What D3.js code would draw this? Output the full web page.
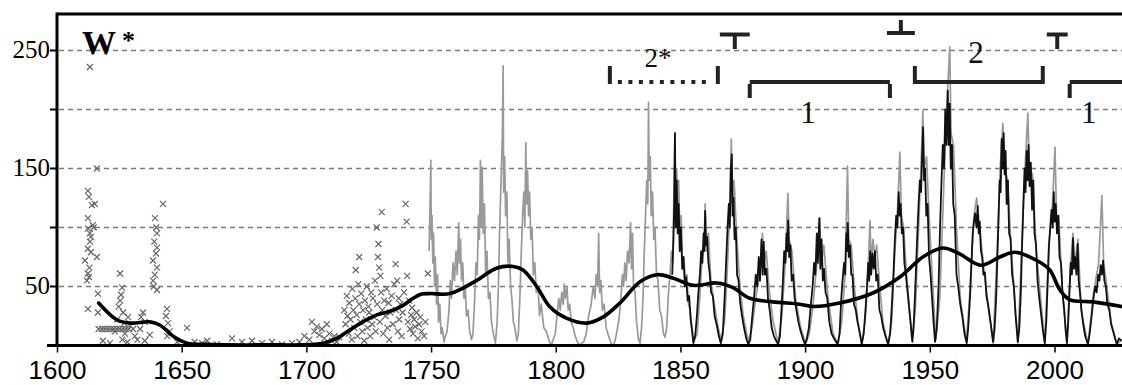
<!DOCTYPE html>
<html>
<head>
<meta charset="utf-8">
<script src="https://cdn.jsdelivr.net/npm/d3@7"></script>
<style>
  html, body { margin: 0; padding: 0; background: #fff; }
  svg { display: block; }
</style>
</head>
<body>
<svg id="chart" width="1122" height="385"></svg>
<script>
// ---- data ----

// early telescopic observations, drawn as x marks
const earlyObs = [
  [1613.0, 236], [1615.8, 150], [1612.2, 131], [1612.6, 126], [1613.8, 119], [1615.0, 120],
  [1612.2, 108], [1612.2, 99], [1613.0, 95], [1613.4, 92], [1612.2, 82], [1613.4, 79],
  [1611.0, 72], [1615.8, 75], [1612.2, 61], [1611.8, 55], [1612.6, 58], [1616.2, 44],
  [1612.2, 31], [1616.2, 28], [1612.8, 66], [1613.0, 88], [1614.5, 100], [1614.2, 102],
  [1625.1, 61], [1625.9, 49], [1625.1, 38], [1626.3, 28], [1628.3, 24], [1624.5, 33],
  [1625.5, 43], [1626.8, 19], [1624.0, 22], [1623.0, 12], [1627.0, 10], [1629.0, 17],
  [1616.5, 14], [1617.8, 14], [1619.0, 14], [1620.2, 14], [1621.4, 14], [1622.6, 14],
  [1623.8, 14], [1625.0, 14], [1626.2, 14], [1627.4, 14], [1628.6, 14], [1630.3, 14],
  [1618.2, 4], [1621.0, 2], [1626.0, 5], [1628.0, 3], [1631.0, 8], [1633.1, 14],
  [1634.3, 28], [1633.5, 24], [1635.0, 20], [1632.0, 5], [1635.0, 4], [1637.0, 9],
  [1639.1, 108], [1639.9, 95], [1639.9, 83], [1638.3, 72], [1639.9, 66], [1638.3, 55],
  [1639.9, 47], [1639.0, 60], [1639.5, 78], [1638.8, 88], [1639.6, 100], [1638.6, 50],
  [1642.3, 120], [1643.9, 31], [1644.3, 19], [1644.0, 8], [1643.5, 25], [1645.0, 12],
  [1651.9, 15], [1648.0, 3], [1655.0, 3], [1658.0, 2], [1660.0, 4], [1664.0, 1],
  [1670.0, 6], [1674.0, 3], [1678.0, 4], [1682.0, 2], [1686.0, 3], [1690.0, 1], [1694.0, 2],
  [1697.0, 3], [1699.0, 8], [1701.0, 5], [1702.0, 20], [1703.0, 12], [1704.0, 16], [1705.0, 9],
  [1706.0, 14], [1707.0, 6], [1708.0, 18], [1709.0, 10], [1710.0, 4], [1711.0, 8],
  [1712.0, 3], [1713.0, 7], [1715.0, 30], [1715.5, 18], [1716.0, 42], [1716.3, 25],
  [1716.8, 10], [1717.0, 36], [1717.5, 22], [1718.0, 5], [1718.2, 48], [1718.6, 30],
  [1719.0, 15], [1719.4, 40], [1719.6, 64], [1720.0, 26], [1720.3, 8], [1720.6, 52],
  [1721.0, 75], [1721.0, 35], [1721.4, 20], [1721.8, 44], [1722.2, 12], [1722.5, 30],
  [1723.0, 4], [1723.3, 38], [1723.7, 22], [1724.0, 50], [1724.3, 15], [1724.7, 33],
  [1725.0, 28], [1725.4, 8], [1725.8, 45], [1726.2, 18], [1726.5, 40], [1727.0, 24],
  [1727.3, 55], [1727.6, 12], [1728.0, 100], [1728.2, 35], [1728.5, 75], [1728.7, 86],
  [1729.0, 66], [1729.2, 20], [1729.5, 59], [1729.8, 45], [1730.0, 113], [1730.2, 30],
  [1730.6, 10], [1731.0, 38], [1731.5, 25], [1732.0, 48], [1732.3, 15], [1732.8, 36],
  [1733.0, 5], [1733.5, 28], [1734.0, 42], [1734.5, 18], [1735.0, 52], [1735.6, 69],
  [1735.8, 30], [1736.2, 55], [1736.5, 12], [1736.8, 40], [1737.0, 22], [1737.5, 35],
  [1738.0, 8], [1738.4, 28], [1739.0, 45], [1739.6, 120], [1740.0, 105], [1740.2, 59],
  [1740.5, 20], [1741.0, 38], [1741.4, 14], [1741.8, 26], [1742.2, 32], [1742.6, 10],
  [1743.0, 22], [1743.4, 16], [1744.0, 28], [1744.5, 6], [1745.0, 18], [1745.5, 24],
  [1746.0, 12], [1747.0, 8], [1747.5, 20], [1748.5, 61]
];

// monthly record, grey trace
const greySeries = [
  [1749.0, 80], [1749.4, 120], [1749.7, 157], [1749.9, 90], [1750.2, 110], [1750.5, 70],
  [1750.8, 95], [1751.2, 50], [1751.5, 75], [1752.0, 35], [1752.4, 60], [1752.8, 20],
  [1753.3, 35], [1753.8, 10], [1754.3, 15], [1755.0, 3], [1755.5, 8],
  [1756.2, 12], [1757.0, 30], [1757.5, 55], [1758.0, 40], [1758.6, 70], [1759.2, 55],
  [1759.8, 80], [1760.3, 60], [1760.9, 104], [1761.2, 70], [1761.6, 90], [1762.0, 55],
  [1762.5, 70], [1763.0, 40], [1763.5, 50], [1764.0, 25], [1764.6, 30], [1765.3, 12], [1766.0, 5],
  [1766.6, 10], [1767.2, 35], [1767.8, 70], [1768.3, 60], [1768.8, 110], [1769.2, 90],
  [1769.6, 157], [1769.9, 100], [1770.3, 151], [1770.7, 95], [1771.2, 120], [1771.7, 60],
  [1772.2, 80], [1772.8, 40], [1773.4, 45], [1774.0, 20], [1774.8, 10], [1775.6, 2],
  [1776.3, 20], [1776.8, 50], [1777.2, 90], [1777.6, 120], [1778.0, 150], [1778.4, 180],
  [1778.7, 237], [1778.9, 130], [1779.3, 160], [1779.7, 110], [1780.2, 130], [1780.6, 70],
  [1781.1, 90], [1781.7, 50], [1782.2, 40], [1782.8, 20], [1783.4, 15], [1784.2, 4],
  [1784.8, 10], [1785.4, 40], [1786.0, 80], [1786.5, 110], [1787.0, 130], [1787.4, 100],
  [1787.8, 172], [1788.1, 120], [1788.5, 148], [1788.9, 110], [1789.3, 130], [1789.8, 90],
  [1790.3, 100], [1790.8, 60], [1791.4, 70], [1792.0, 45], [1792.7, 50], [1793.3, 25],
  [1794.0, 35], [1795.0, 15], [1796.0, 12], [1797.0, 5], [1798.0, 0],
  [1798.8, 5], [1799.6, 10], [1800.3, 25], [1801.0, 40], [1801.6, 30], [1802.2, 45],
  [1802.8, 35], [1803.2, 52], [1803.7, 40], [1804.3, 50], [1804.8, 30], [1805.4, 35],
  [1806.0, 20], [1806.8, 15], [1807.6, 8], [1808.5, 3], [1809.5, 0], [1810.2, 2],
  [1811.0, 3], [1812.0, 10], [1813.0, 25], [1814.0, 35], [1814.8, 50], [1815.5, 40],
  [1816.0, 60], [1816.6, 50], [1817.0, 95], [1817.4, 45], [1817.9, 55], [1818.5, 30],
  [1819.2, 35], [1820.0, 15], [1821.0, 8], [1822.0, 2], [1823.0, 0],
  [1824.0, 8], [1825.0, 20], [1825.8, 35], [1826.5, 60], [1827.0, 50], [1827.5, 70],
  [1828.0, 55], [1828.6, 80], [1829.2, 70], [1829.8, 104], [1830.2, 65], [1830.6, 95],
  [1831.0, 50], [1831.6, 45], [1832.2, 20], [1833.0, 5], [1833.6, 2],
  [1834.2, 15], [1834.8, 40], [1835.3, 80], [1835.8, 110], [1836.3, 140], [1836.7, 120],
  [1837.0, 206], [1837.3, 140], [1837.7, 160], [1838.1, 110], [1838.6, 130], [1839.1, 90],
  [1839.6, 100], [1840.2, 60], [1840.8, 55], [1841.5, 30], [1842.2, 25], [1843.0, 10], [1843.6, 7],
  [1844.3, 15], [1845.0, 45], [1845.6, 60], [1846.2, 80], [1846.7, 70], [1847.2, 130],
  [1847.6, 180], [1847.9, 110], [1848.3, 150], [1848.7, 120], [1849.1, 140], [1849.6, 90],
  [1850.1, 110], [1850.6, 70], [1851.2, 75], [1851.8, 55], [1852.4, 60], [1853.0, 35],
  [1853.7, 30], [1854.4, 15], [1855.0, 3],
  [1856.5, 10], [1857.5, 40], [1858.5, 75], [1859.3, 85], [1859.7, 120], [1860.2, 80],
  [1861.0, 95], [1862.0, 55], [1863.0, 40], [1864.5, 20], [1866.0, 5],
  [1867.5, 20], [1868.5, 60], [1869.5, 110], [1870.2, 175], [1870.6, 120], [1871.3, 140],
  [1872.3, 95], [1873.5, 55], [1875.0, 25], [1877.0, 3],
  [1878.5, 15], [1880.0, 40], [1881.5, 60], [1882.7, 95], [1883.3, 70], [1884.2, 80],
  [1885.5, 45], [1887.0, 20], [1889.0, 2],
  [1890.5, 25], [1891.8, 70], [1892.9, 129], [1893.4, 90], [1894.5, 80], [1896.0, 40],
  [1898.0, 15], [1900.0, 2],
  [1901.5, 10], [1903.0, 35], [1904.5, 70], [1905.6, 108], [1906.3, 70], [1907.3, 85],
  [1909.0, 40], [1911.0, 10], [1913.0, 1],
  [1914.5, 20], [1915.8, 60], [1916.8, 152], [1917.3, 90], [1918.3, 85], [1919.5, 50],
  [1921.0, 20], [1922.5, 2],
  [1923.8, 20], [1924.8, 50], [1925.8, 106], [1926.3, 70], [1927.0, 90], [1927.8, 75],
  [1928.5, 85], [1929.5, 55], [1931.0, 20], [1933.0, 1],
  [1934.5, 20], [1935.8, 80], [1937.0, 120], [1937.8, 164], [1938.4, 110], [1939.3, 100],
  [1940.5, 60], [1942.6, 5],
  [1944.0, 30], [1945.5, 110], [1946.5, 165], [1947.0, 199], [1947.5, 150], [1948.5, 160],
  [1949.5, 110], [1951.0, 50], [1952.2, 5],
  [1953.8, 40], [1955.0, 110], [1956.3, 190], [1957.8, 253], [1958.3, 180], [1959.3, 170],
  [1960.5, 100], [1962.0, 40], [1964.5, 3],
  [1966.0, 50], [1967.5, 110], [1968.6, 125], [1969.3, 110], [1970.5, 85], [1972.0, 55], [1975.2, 2],
  [1976.8, 80], [1978.0, 150], [1979.1, 188], [1979.8, 150], [1981.0, 140], [1982.5, 80], [1985.1, 2],
  [1986.8, 90], [1988.0, 150], [1989.1, 197], [1989.7, 150], [1991.0, 145], [1992.5, 80], [1995.9, 2],
  [1997.5, 85], [1999.0, 120], [2000.0, 168], [2000.6, 110], [2001.5, 110], [2003.0, 45], [2004.8, 2],
  [2006.0, 60], [2007.2, 95], [2008.0, 70], [2009.2, 90], [2010.5, 30], [2013.2, 1],
  [2015.5, 45], [2017.5, 70], [2018.8, 127], [2019.5, 70], [2020.5, 55], [2022.5, 20],
  [2024.8, 1], [2026.7, 5]
];

// monthly record, black trace (from 1846)
const blackSeries = [
  [1846.5, 60], [1847.0, 90], [1847.3, 120], [1847.6, 180], [1847.9, 100], [1848.3, 140],
  [1848.7, 95], [1849.1, 120], [1849.5, 80], [1850.0, 100], [1850.5, 65], [1851.0, 75],
  [1851.6, 50], [1852.1, 58], [1852.7, 38], [1853.3, 42], [1853.9, 22], [1854.5, 12], [1855.0, 2],
  [1855.7, 8], [1856.4, 25], [1857.0, 45], [1857.6, 60], [1858.1, 80], [1858.6, 70],
  [1859.1, 95], [1859.4, 80], [1859.7, 114], [1860.1, 85], [1860.5, 92], [1861.0, 70],
  [1861.5, 62], [1862.1, 45], [1862.8, 42], [1863.5, 25], [1864.3, 18], [1865.2, 8], [1866.0, 2],
  [1866.8, 10], [1867.5, 40], [1868.1, 70], [1868.7, 100], [1869.2, 120], [1869.6, 100],
  [1870.0, 150], [1870.4, 162], [1870.7, 110], [1871.1, 125], [1871.5, 90], [1872.0, 100],
  [1872.5, 60], [1873.1, 55], [1873.8, 35], [1874.5, 25], [1875.3, 15], [1876.2, 6], [1877.0, 1],
  [1877.8, 5], [1878.6, 25], [1879.3, 40], [1880.0, 60], [1880.6, 50], [1881.2, 75],
  [1881.7, 55], [1882.3, 90], [1882.8, 60], [1883.2, 88], [1883.7, 60], [1884.3, 65],
  [1884.9, 40], [1885.6, 30], [1886.4, 15], [1887.3, 8], [1888.2, 4], [1889.0, 1],
  [1889.7, 8], [1890.3, 30], [1890.9, 55], [1891.4, 80], [1891.9, 70], [1892.4, 95],
  [1892.7, 80], [1893.0, 106], [1893.4, 75], [1893.9, 85], [1894.4, 55], [1895.0, 60],
  [1895.6, 40], [1896.3, 30], [1897.1, 20], [1898.0, 12], [1898.9, 6], [1899.7, 1],
  [1900.4, 5], [1901.3, 15], [1902.1, 35], [1902.8, 50], [1903.4, 70], [1903.9, 60],
  [1904.5, 95], [1904.9, 70], [1905.5, 108], [1905.9, 65], [1906.4, 90], [1906.9, 55],
  [1907.4, 65], [1908.0, 45], [1908.7, 40], [1909.5, 20], [1910.4, 10], [1911.6, 5], [1912.8, 1],
  [1913.6, 10], [1914.3, 40], [1914.8, 55], [1915.4, 70], [1915.9, 60], [1916.3, 95],
  [1916.6, 80], [1916.9, 104], [1917.3, 75], [1917.8, 85], [1918.3, 60], [1918.8, 60],
  [1919.4, 35], [1920.1, 30], [1920.8, 20], [1921.6, 12], [1922.5, 1],
  [1923.3, 10], [1924.0, 30], [1924.6, 50], [1925.1, 70], [1925.5, 55], [1925.9, 80],
  [1926.3, 60], [1926.8, 78], [1927.3, 65], [1927.8, 80], [1928.3, 55], [1928.9, 60],
  [1929.6, 30], [1930.3, 25], [1931.1, 15], [1932.0, 8], [1933.1, 1],
  [1933.9, 10], [1934.6, 35], [1935.2, 60], [1935.8, 90], [1936.3, 110], [1936.8, 100],
  [1937.3, 130], [1937.7, 110], [1938.1, 120], [1938.6, 95], [1939.1, 100], [1939.6, 70],
  [1940.2, 60], [1940.9, 45], [1941.6, 30], [1942.3, 15], [1942.8, 3],
  [1943.3, 15], [1944.0, 50], [1944.7, 90], [1945.3, 120], [1945.8, 140], [1946.3, 130],
  [1946.7, 160], [1947.1, 185], [1947.5, 140], [1947.9, 150], [1948.4, 110], [1948.9, 120],
  [1949.5, 75], [1950.1, 60], [1950.7, 40], [1951.3, 20], [1951.9, 3],
  [1952.6, 15], [1953.3, 50], [1953.9, 100], [1954.5, 140], [1955.0, 170], [1955.5, 150],
  [1956.0, 200], [1956.5, 170], [1957.0, 216], [1957.4, 170], [1957.8, 205], [1958.2, 150],
  [1958.7, 170], [1959.2, 120], [1959.8, 110], [1960.5, 60], [1961.2, 50], [1962.0, 35],
  [1962.8, 25], [1963.7, 10], [1964.6, 2],
  [1965.2, 15], [1965.9, 40], [1966.5, 70], [1967.0, 95], [1967.5, 105], [1968.0, 112],
  [1968.5, 100], [1969.0, 118], [1969.4, 95], [1969.8, 105], [1970.3, 80], [1970.8, 75],
  [1971.3, 60], [1971.9, 62], [1972.5, 42], [1973.1, 35], [1973.8, 25], [1974.5, 14], [1975.2, 3],
  [1975.8, 15], [1976.4, 40], [1976.9, 75], [1977.4, 110], [1977.8, 140], [1978.2, 130],
  [1978.6, 175], [1979.0, 150], [1979.4, 180], [1979.8, 145], [1980.2, 165], [1980.6, 120],
  [1981.1, 140], [1981.6, 95], [1982.2, 90], [1982.8, 60], [1983.5, 50], [1984.2, 25], [1985.1, 3],
  [1985.7, 15], [1986.3, 45], [1986.8, 85], [1987.3, 120], [1987.8, 150], [1988.2, 130],
  [1988.6, 165], [1989.0, 140], [1989.4, 170], [1989.8, 135], [1990.3, 155], [1990.8, 115],
  [1991.3, 140], [1991.8, 95], [1992.4, 85], [1993.0, 55], [1993.7, 40], [1994.5, 25],
  [1995.2, 12], [1995.9, 2],
  [1996.5, 20], [1997.1, 55], [1997.6, 85], [1998.1, 100], [1998.6, 115], [1999.1, 100],
  [1999.5, 130], [1999.9, 105], [2000.3, 120], [2000.8, 95], [2001.3, 110], [2001.8, 75],
  [2002.4, 70], [2003.0, 45], [2003.7, 30], [2004.3, 12], [2004.8, 2],
  [2005.3, 20], [2005.8, 45], [2006.3, 70], [2006.8, 60], [2007.2, 91], [2007.6, 65],
  [2008.1, 75], [2008.6, 60], [2009.1, 86], [2009.5, 55], [2010.0, 45], [2010.6, 30],
  [2011.3, 18], [2012.1, 8], [2013.2, 1],
  [2013.9, 10], [2014.7, 25], [2015.4, 40], [2016.1, 50], [2016.7, 45], [2017.3, 60],
  [2017.8, 55], [2018.3, 68], [2018.8, 60], [2019.3, 72], [2019.8, 55], [2020.4, 50],
  [2021.0, 35], [2021.8, 30], [2022.5, 18], [2023.3, 12], [2024.2, 5], [2024.8, 1],
  [2025.6, 6], [2026.7, 4]
];

// long-term smoothed curve
const smoothCurve = [
  [1616.5, 36], [1623.9, 21.6], [1629.1, 19], [1637.0, 20], [1641.0, 17.4], [1646.7, 7.4],
  [1652.0, 2], [1660.0, 1], [1670.0, 0.5], [1680.0, 0.5], [1690.0, 0.5], [1697.0, 0.5],
  [1706.5, 2], [1712.0, 6], [1717.0, 13], [1722.5, 20], [1728.0, 26], [1733.3, 29],
  [1738.6, 34], [1742.6, 40], [1746.0, 43.6], [1749.4, 44], [1757.4, 44], [1768.0, 55],
  [1776.0, 65.5], [1782.7, 67], [1786.7, 64], [1792.3, 49.6], [1797.5, 32.6], [1804.3, 23],
  [1812.3, 19], [1818.7, 24], [1825.5, 36], [1833.6, 54], [1840.4, 60], [1847.0, 57],
  [1855.0, 51], [1864.5, 53], [1870.9, 49], [1877.6, 40], [1886.8, 37], [1897.6, 35],
  [1903.0, 33], [1913.6, 36], [1927.0, 44.5], [1937.8, 58], [1947.0, 75], [1955.0, 82.6],
  [1961.4, 78], [1970.3, 68], [1977.9, 75], [1983.9, 79], [1992.7, 72], [1997.9, 64],
  [2002.0, 47], [2006.0, 38.6], [2015.2, 37], [2026.7, 33]
];

// period brackets along the top
const bracketStart = [1821.5, 1877.6, 1943.8, 2005.9];
const bracketEnd   = [1864.8, 1933.8, 1995.1, 2035.0];
const bracketLabel = ["2*", "1", "2", "1"];
const bracketLabelYear = [1840.8, 1901.0, 1968.3, 2013.5];
const bracketDotted = [true, false, false, false];

// transition marks between periods
const transStart = [1865.6, 1932.6, 1996.7];
const transEnd   = [1877.6, 1943.8, 2005.1];
const transUp    = [false, true, false];

const yTickValues = [0, 50, 100, 150, 200, 250];
const yTickLabels = [50, 150, 250];
const xTickValues = [1600, 1650, 1700, 1750, 1800, 1850, 1900, 1950, 2000];

// ---- drawing ----
const W = 1122, H = 385;
const plotLeft = 57, plotTop = 14, plotBottom = 345.5;

const x = d3.scaleLinear().domain([1600, 2000]).range([57.5, 1055]);
const y = d3.scaleLinear().domain([0, 250]).range([345.5, 50.5]);

const svg = d3.select("#chart");

svg.append("defs").append("clipPath").attr("id", "plot")
  .append("rect").attr("x", plotLeft).attr("y", plotTop)
  .attr("width", W - plotLeft).attr("height", plotBottom - plotTop);

// gridlines
svg.append("g")
  .selectAll("line")
  .data(yTickValues.filter(v => v > 0))
  .enter()
  .append("line")
  .attr("x1", plotLeft + 2).attr("x2", W)
  .attr("y1", d => y(d)).attr("y2", d => y(d))
  .attr("stroke", "#7a7a7a")
  .attr("stroke-width", 1.4)
  .attr("stroke-dasharray", "5,4");

const plot = svg.append("g").attr("clip-path", "url(#plot)");

// x marks
plot.append("g")
  .attr("stroke", "#666")
  .attr("stroke-width", 1.2)
  .attr("fill", "none")
  .selectAll("path")
  .data(earlyObs)
  .enter()
  .append("path")
  .attr("transform", d => `translate(${x(d[0])},${y(d[1])})`)
  .attr("d", "M-3,-3L3,3M-3,3L3,-3");

const line = d3.line().x(d => x(d[0])).y(d => y(d[1]));

plot.append("path")
  .datum(greySeries)
  .attr("fill", "none")
  .attr("stroke", "#999")
  .attr("stroke-width", 1.7)
  .attr("stroke-linejoin", "round")
  .attr("d", line);

plot.append("path")
  .datum(blackSeries)
  .attr("fill", "none")
  .attr("stroke", "#111")
  .attr("stroke-width", 1.8)
  .attr("stroke-linejoin", "round")
  .attr("d", line);

const smoothLine = d3.line()
  .x(d => x(d[0])).y(d => y(d[1]))
  .curve(d3.curveCatmullRom.alpha(0.5));

plot.append("path")
  .datum(smoothCurve)
  .attr("fill", "none")
  .attr("stroke", "#000")
  .attr("stroke-width", 3.6)
  .attr("stroke-linecap", "round")
  .attr("d", smoothLine);

// frame
const frame = svg.append("g").attr("stroke", "#000").attr("stroke-width", 3);
frame.append("line").attr("x1", plotLeft).attr("x2", W).attr("y1", plotTop).attr("y2", plotTop);
frame.append("line").attr("x1", plotLeft).attr("x2", plotLeft).attr("y1", plotTop - 1.5).attr("y2", plotBottom);
frame.append("line").attr("x1", 47).attr("x2", W).attr("y1", plotBottom).attr("y2", plotBottom);

// y ticks
svg.append("g")
  .selectAll("line")
  .data(yTickValues.filter(v => v > 0))
  .enter()
  .append("line")
  .attr("x1", 50).attr("x2", plotLeft)
  .attr("y1", d => y(d)).attr("y2", d => y(d))
  .attr("stroke", "#000").attr("stroke-width", 2);

svg.append("g")
  .selectAll("text")
  .data(yTickLabels)
  .enter()
  .append("text")
  .attr("x", 50)
  .attr("y", d => y(d) + 7)
  .attr("text-anchor", "end")
  .attr("font-family", "'Liberation Serif', 'Times New Roman', serif")
  .attr("font-size", 25)
  .attr("fill", "#000")
  .text(d => d);

// x ticks
svg.append("g")
  .selectAll("line")
  .data(xTickValues)
  .enter()
  .append("line")
  .attr("x1", d => x(d)).attr("x2", d => x(d))
  .attr("y1", plotBottom).attr("y2", plotBottom + 7)
  .attr("stroke", "#000").attr("stroke-width", 1.5);

svg.append("g")
  .selectAll("text")
  .data(xTickValues)
  .enter()
  .append("text")
  .attr("x", d => x(d))
  .attr("y", 379)
  .attr("text-anchor", "middle")
  .attr("font-family", "'Liberation Sans', Arial, sans-serif")
  .attr("font-size", 26)
  .attr("fill", "#000")
  .text(d => d);

// W* label
const wLabel = svg.append("text")
  .attr("x", 82).attr("y", 54)
  .attr("font-family", "'Liberation Serif', 'Times New Roman', serif")
  .attr("font-weight", "bold")
  .attr("font-size", 34)
  .attr("fill", "#000");
wLabel.append("tspan").text("W");
wLabel.append("tspan").attr("dx", 6).attr("dy", -5).attr("font-size", 26).text("*");

// period brackets
const ann = svg.append("g").attr("stroke", "#222").attr("fill", "none").attr("stroke-width", 4);
const lineY = 82;
bracketStart.forEach((s, i) => {
  const x0 = x(s), x1 = Math.min(x(bracketEnd[i]), W + 10);
  const up = bracketLabel[i].startsWith("2");
  const tipY = up ? 66 : 98;
  ann.append("line")
    .attr("x1", x0 + (bracketDotted[i] ? 8 : 0)).attr("x2", x1 - (bracketDotted[i] ? 6 : 0))
    .attr("y1", lineY).attr("y2", lineY)
    .attr("stroke-dasharray", bracketDotted[i] ? "4,6.5" : null);
  ann.append("line").attr("x1", x0).attr("x2", x0).attr("y1", lineY + 2).attr("y2", tipY);
  if (bracketEnd[i] < 2027) {
    ann.append("line").attr("x1", x1).attr("x2", x1).attr("y1", lineY + 2).attr("y2", tipY);
  }
  svg.append("text")
    .attr("x", x(bracketLabelYear[i]))
    .attr("y", up ? (bracketDotted[i] ? 67 : 63) : 123)
    .attr("text-anchor", "middle")
    .attr("font-family", "'Liberation Serif', 'Times New Roman', serif")
    .attr("font-size", bracketDotted[i] ? 27 : 31)
    .attr("fill", "#111")
    .text(bracketLabel[i]);
});

// transition marks
transStart.forEach((s, i) => {
  const x0 = x(s), x1 = x(transEnd[i]), xm = (x0 + x1) / 2;
  const by = transUp[i] ? 33 : 34.5;
  ann.append("line").attr("x1", x0).attr("x2", x1).attr("y1", by).attr("y2", by);
  ann.append("line").attr("x1", xm).attr("x2", xm)
    .attr("y1", by).attr("y2", transUp[i] ? 20 : 49);
});
</script>
</body>
</html>
